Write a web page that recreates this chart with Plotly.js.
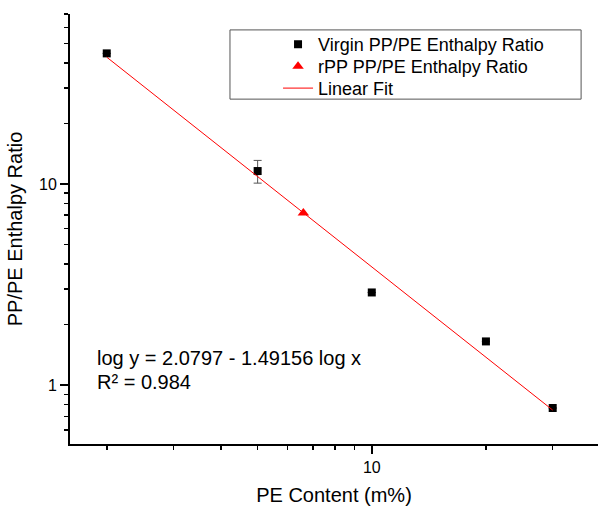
<!DOCTYPE html>
<html>
<head>
<meta charset="utf-8">
<script src="https://cdn.plot.ly/plotly-3.0.1.min.js"></script>
<style>html,body{margin:0;padding:0;background:#fff;}#chart{width:599px;height:506px;}</style>
</head>
<body>
<div id="chart"></div>
<script>
// Data
const virginX = [2, 5, 10, 20, 30];
const virginY = [44.6, 11.6, 2.89, 1.65, 0.77];
const virginErr = [0, 1.5, 0, 0, 0];
const rppX = [6.6];
const rppY = [7.17];
const fitX = [2, 30];
const fitY = [42.7, 0.752];
const xMajorTicks = [10];
const xMajorLabels = ['10'];
const xMinorTicks = [2, 3, 4, 5, 6, 7, 8, 9, 20, 30];
const yMajorTicks = [1, 10];
const yMajorLabels = ['1', '10'];
const yMinorTicks = [0.6, 0.7, 0.8, 0.9, 2, 3, 4, 5, 6, 7, 8, 9, 20, 30, 40, 50, 60, 70];
const seriesNames = ['Virgin PP/PE Enthalpy Ratio', 'rPP PP/PE Enthalpy Ratio', 'Linear Fit'];
const fitEquation = 'log y = 2.0797 - 1.49156 log x';
const fitR2 = 'R² = 0.984';

const FONT = 'Liberation Sans, Arial, sans-serif';

const traces = [
  {
    x: virginX, y: virginY, type: 'scatter', mode: 'markers', name: seriesNames[0], legend: 'legend',
    marker: {symbol: 'square', size: 8, color: '#000'},
    error_y: {type: 'data', array: virginErr, visible: true, color: '#555', thickness: 1, width: 4}
  },
  {
    x: rppX, y: rppY, type: 'scatter', mode: 'markers', name: seriesNames[1], legend: 'legend2',
    marker: {symbol: 'triangle-up', size: 10, color: '#ff0000'}
  },
  {
    x: fitX, y: fitY, type: 'scatter', mode: 'lines', name: seriesNames[2], legend: 'legend3',
    line: {color: '#ff0000', width: 1}
  }
];

const axisCommon = {
  type: 'log', showgrid: false, zeroline: false,
  showline: true, linecolor: '#000', linewidth: 2,
  ticks: 'outside', ticklen: 8, tickwidth: 1.5, tickcolor: '#000',
  tickfont: {family: FONT, size: 16, color: '#000'},
  tickmode: 'array'
};

function legendAt(y) {
  return {
    x: 0.394, y: y, xanchor: 'left', yanchor: 'top',
    bgcolor: 'rgba(0,0,0,0)', borderwidth: 0,
    font: {family: FONT, size: 18, color: '#000'}
  };
}

const layout = {
  width: 599, height: 506,
  margin: {l: 70, r: 1, t: 14, b: 62},
  paper_bgcolor: '#fff', plot_bgcolor: '#fff',
  font: {family: FONT, color: '#000'},
  showlegend: true,
  legend: legendAt(0.972),
  legend2: legendAt(0.921),
  legend3: legendAt(0.870),
  xaxis: Object.assign({}, axisCommon, {
    range: [Math.log10(1.6), Math.log10(39.5)],
    tickvals: xMajorTicks, ticktext: xMajorLabels,
    minor: {tickmode: 'array', tickvals: xMinorTicks, ticks: 'outside', ticklen: 4, tickwidth: 1.5, tickcolor: '#000'},
    title: {text: 'PE Content (m%)', font: {family: FONT, size: 20, color: '#000'}, standoff: 14}
  }),
  yaxis: Object.assign({}, axisCommon, {
    range: [Math.log10(0.51), Math.log10(70)],
    tickvals: yMajorTicks, ticktext: yMajorLabels,
    minor: {tickmode: 'array', tickvals: yMinorTicks, ticks: 'outside', ticklen: 4, tickwidth: 1.5, tickcolor: '#000'},
    title: {text: 'PP/PE Enthalpy Ratio', font: {family: FONT, size: 20, color: '#000'}, standoff: 11}
  }),
  shapes: [
    {type: 'rect', xref: 'paper', yref: 'paper', x0: 0.303, x1: 0.968, y0: 0.802, y1: 0.963,
     line: {color: '#555', width: 1}, fillcolor: 'rgba(0,0,0,0)'}
  ],
  annotations: [
    {xref: 'paper', yref: 'paper', x: 0.047, y: 0.200, xanchor: 'left', yanchor: 'middle',
     text: fitEquation, showarrow: false, font: {family: FONT, size: 20, color: '#000'}},
    {xref: 'paper', yref: 'paper', x: 0.047, y: 0.144, xanchor: 'left', yanchor: 'middle',
     text: fitR2, showarrow: false, font: {family: FONT, size: 20, color: '#000'}}
  ]
};

Plotly.newPlot('chart', traces, layout, {displayModeBar: false, staticPlot: true});
</script>
</body>
</html>
